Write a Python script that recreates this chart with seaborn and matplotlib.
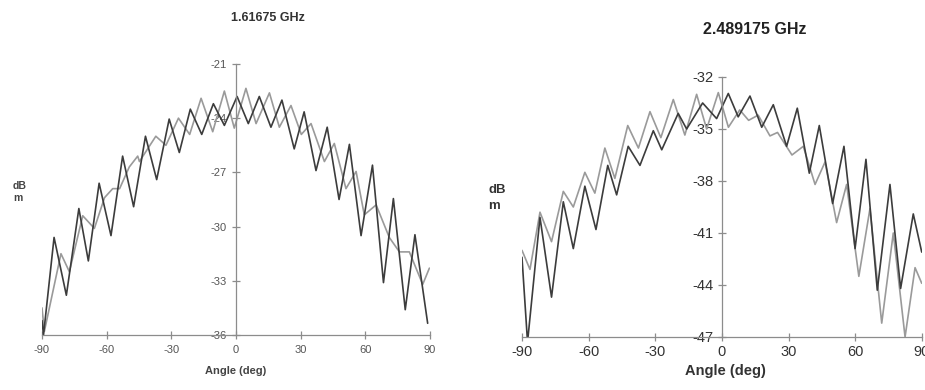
import pandas as pd
import seaborn as sns
import matplotlib.pyplot as plt

# ---- 1.61675 GHz panel (extrema of each trace) ----
low_dark_angle = [-90, -89.3, -84.4, -78.7, -72.9, -68.5, -63.5, -58, -52.6, -47.5, -42, -36.8,
                  -31, -26.3, -21.2, -15.9, -10.5, -5.4, 0.5, 5.7, 10.8, 16.2, 21.3, 27,
                  31.6, 37.1, 42.3, 47.8, 52.6, 58, 63.3, 68.4, 73, 78.5, 83, 88.9]
low_dark_db = [-35.2, -36.0, -30.6, -33.8, -29.0, -31.9, -27.6, -30.5, -26.1, -28.9, -25.0, -27.4,
               -24.05, -25.9, -23.5, -24.9, -23.2, -24.4, -22.8, -24.3, -22.8, -24.5, -23.0, -25.7,
               -23.65, -26.9, -24.5, -28.5, -25.45, -30.5, -26.6, -33.1, -28.45, -34.6, -30.45, -35.35]

low_light_angle = [-90, -88.9, -81.2, -77.3, -71.1, -65.7, -61, -57.2, -54, -49.5, -45.6, -44.8,
                   -37.2, -32.5, -26.7, -21.5, -16.2, -10.8, -5.4, -0.8, 4.6, 9.3, 15.5, 20.1,
                   25.5, 30.3, 34.8, 41.0, 45.6, 51.0, 55.7, 59.5, 65.0, 71.1, 75.8, 80.4, 86.6, 89.7]
low_light_db = [-34.5, -35.8, -31.5, -32.5, -29.4, -30.1, -28.4, -27.9, -27.9, -26.7, -26.1, -26.4,
                -25.0, -25.5, -24.0, -24.9, -22.9, -24.75, -22.5, -24.55, -22.35, -24.3, -22.6, -24.5,
                -23.3, -24.9, -24.3, -26.4, -25.4, -27.9, -26.95, -29.35, -28.8, -30.6, -31.4, -31.4, -33.2, -32.3]

# ---- 2.489175 GHz panel ----
high_dark_angle = [-90, -87.5, -81.9, -76.7, -71.4, -66.9, -61.7, -56.7, -51.4, -47.4, -42.2, -36.9,
                   -30.9, -27.1, -19.7, -15.9, -8.7, -2.4, 2.85, 7.3, 12.6, 17.9, 23.1, 29.1,
                   33.9, 39.3, 43.8, 49.8, 54.9, 59.9, 64.8, 69.9, 75.6, 80.4, 86.1, 89.9]
high_dark_db = [-42.4, -47.3, -40.1, -44.7, -39.2, -41.9, -38.3, -40.8, -37.1, -38.8, -36.0, -37.1,
                -35.1, -36.2, -34.1, -35.0, -33.5, -34.4, -32.95, -34.3, -33.1, -34.9, -33.6, -36.0,
                -33.8, -37.55, -34.8, -39.3, -36.0, -41.9, -36.75, -44.3, -38.2, -44.2, -39.9, -42.1]

high_light_angle = [-90, -86.4, -81.9, -76.7, -71.4, -66.9, -61.7, -57.2, -52.7, -48.2, -42.4, -37.6,
                    -32.4, -27.5, -21.9, -16.7, -11.4, -6.9, -1.65, 2.9, 8.0, 12.0, 16.3, 21.6,
                    25.0, 31.5, 36.6, 41.9, 46.4, 51.6, 56.1, 61.6, 66.6, 71.9, 77.1, 82.4, 86.9, 89.9]
high_light_db = [-42.0, -43.1, -39.8, -41.5, -38.6, -39.5, -37.5, -38.7, -36.1, -37.85, -34.8, -36.1,
                 -34.0, -35.5, -33.3, -35.35, -33.0, -35.0, -32.9, -34.9, -33.9, -34.5, -34.2, -35.4,
                 -35.2, -36.5, -36.0, -38.2, -36.9, -40.4, -38.2, -43.5, -39.6, -46.2, -41.0, -47.0, -43.0, -43.9]

x_ticks = [-90, -60, -30, 0, 30, 60, 90]
low_yticks = [-36, -33, -30, -27, -24, -21]
high_yticks = [-47, -44, -41, -38, -35, -32]

sns.set_theme(style="white")
plt.rcParams['font.family'] = ['Liberation Sans', 'DejaVu Sans']
plt.rcParams['axes.unicode_minus'] = False

fig = plt.figure(figsize=(9.25, 3.9), dpi=100)
ax1 = fig.add_axes([0.0454, 0.141, 0.4195, 0.695])
ax2 = fig.add_axes([0.5643, 0.1359, 0.4324, 0.6667])


def draw_panel(ax, dark_x, dark_y, light_x, light_y, yticks, fs, labcol, pad):
    light = pd.DataFrame({'angle': light_x, 'db': light_y})
    dark = pd.DataFrame({'angle': dark_x, 'db': dark_y})
    sns.lineplot(data=light, x='angle', y='db', sort=False, estimator=None,
                 color='#9a9a9a', linewidth=1.2, solid_joinstyle='round', ax=ax)
    sns.lineplot(data=dark, x='angle', y='db', sort=False, estimator=None,
                 color='#3c3c3c', linewidth=1.2, solid_joinstyle='round', ax=ax)
    ax.set_xlim(-90, 90)
    ax.set_ylim(yticks[0], yticks[-1])
    ax.set_xticks(x_ticks)
    ax.set_yticks(yticks)
    ax.set_xlabel('')
    ax.set_ylabel('')
    ax.patch.set_alpha(0)
    for s in ['top', 'right']:
        ax.spines[s].set_visible(False)
    ax.spines['left'].set_position(('data', 0))
    for s in ['left', 'bottom']:
        ax.spines[s].set_color('#8c8c8c')
        ax.spines[s].set_linewidth(0.9)
    ax.tick_params(bottom=True, left=True, direction='inout', length=6, width=0.9,
                   color='#8c8c8c', labelsize=fs, labelcolor=labcol, pad=pad)


draw_panel(ax1, low_dark_angle, low_dark_db, low_light_angle, low_light_db,
           low_yticks, 8, '#555555', 4)
draw_panel(ax2, high_dark_angle, high_dark_db, high_light_angle, high_light_db,
           high_yticks, 10.5, '#333333', 3)

fig.text(268 / 925, 1 - 18 / 390, '1.61675 GHz', ha='center', va='center',
         fontsize=9, fontweight='bold', color='#333333')
fig.text(755 / 925, 1 - 29 / 390, '2.489175 GHz', ha='center', va='center',
         fontsize=11.5, fontweight='bold', color='#222222')
fig.text(236 / 925, 1 - 371 / 390, 'Angle (deg)', ha='center', va='center',
         fontsize=8, fontweight='bold', color='#444444')
fig.text(725 / 925, 1 - 371 / 390, 'Angle (deg)', ha='center', va='center',
         fontsize=10.5, fontweight='bold', color='#333333')
fig.text(13 / 925, 1 - 192 / 390, 'dB\nm', ha='left', va='center',
         fontsize=7.5, fontweight='bold', color='#444444', linespacing=1.3)
fig.text(488 / 925, 1 - 198 / 390, 'dB\nm', ha='left', va='center',
         fontsize=9.5, fontweight='bold', color='#333333', linespacing=1.5)

fig.savefig('out.png', dpi=100, facecolor='white')
